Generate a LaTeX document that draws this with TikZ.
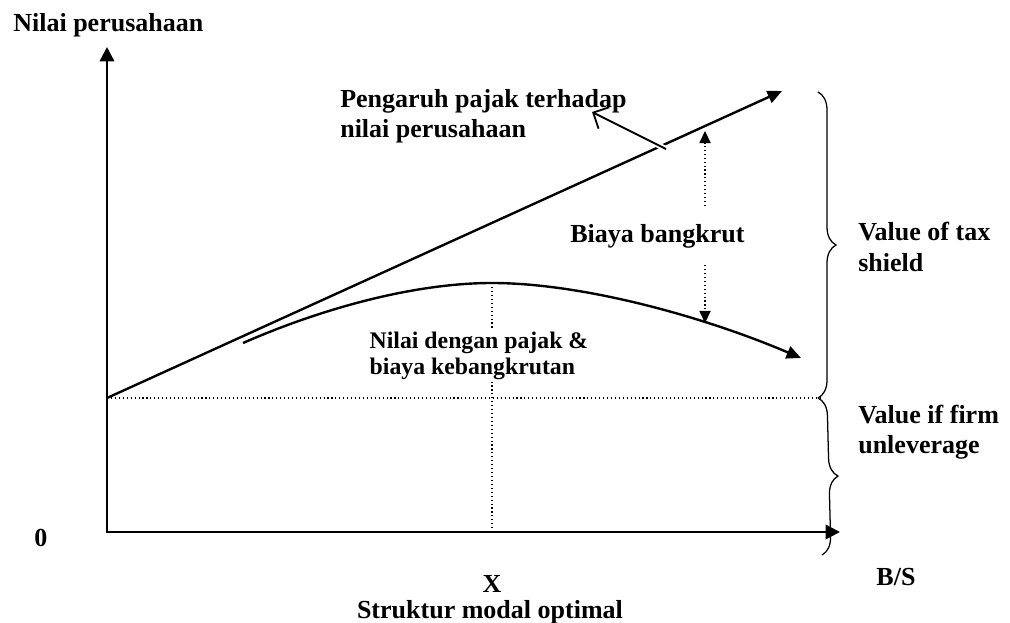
\documentclass[tikz,border=0pt]{standalone}
\usepackage{fontspec}
\setmainfont{Liberation Serif}
\usetikzlibrary{arrows.meta, decorations.pathreplacing, calc}

\begin{document}
\begin{tikzpicture}[
    x=0.025cm, y=-0.025cm,
    lbl/.style={font=\fontsize{18.5}{21.5}\selectfont\bfseries, inner sep=0pt, align=left},
    smalllbl/.style={font=\fontsize{16.9}{19}\selectfont\bfseries, inner sep=1pt, align=left, fill=white},
    axis/.style={line width=1.7pt, {Triangle[length=3.6mm, width=3.6mm]}-{Triangle[length=3.6mm, width=3.6mm]}},
    curve/.style={line width=1.7pt, -{Triangle[length=3.6mm, width=3.2mm]}},
    dotarr/.style={dotted, line width=0.8pt, -{Triangle[length=3mm, width=2.8mm]}},
    guide/.style={dotted, line width=0.8pt},
    pointer/.style={line width=1.3pt, -{Straight Barb[length=3mm, width=6mm]}},
    brc/.style={decorate, decoration={brace, amplitude=0.45cm}, line width=0.9pt},
]
\useasboundingbox (0,0) rectangle (1010,623);

% Axes
\coordinate (O)    at (107,532);
\coordinate (ytop) at (107,47);
\coordinate (xend) at (840,532);
\draw[axis] (ytop) -- (O) -- (xend);

% Reference points
\coordinate (base)   at (107,398);
\coordinate (baseR)  at (822,398);
\coordinate (taxtip) at (782,91);
\coordinate (cstart) at (243,343);
\coordinate (cpeak)  at (492,283);
\coordinate (cend)   at (801,358);
\coordinate (optA)   at (492,287);
\coordinate (optB)   at (492,532);
\coordinate (upA) at (705,206);
\coordinate (upB) at (705,131);
\coordinate (dnA) at (705,265);
\coordinate (dnB) at (705,323);
\coordinate (ptrA) at (666,149);
\coordinate (ptrB) at (592,112);

% Dotted guides
\draw[guide] (base) -- (baseR);
\draw[guide] (optA) -- (optB);

% Value with tax shield only
\draw[curve] (base) -- (taxtip);
\draw[pointer, preaction={draw, white, line width=4pt, -, shorten >=40}] (ptrA) -- (ptrB);

% Value with tax and bankruptcy cost
\draw[curve] (cstart) .. controls (330,305) and (420,283) .. (cpeak)
    .. controls (580,283) and (700,315) .. (cend);

% Bankruptcy cost arrows
\draw[dotarr] (upA) -- (upB);
\draw[dotarr] (dnA) -- (dnB);

% Braces
\coordinate (b1t) at (818,92);
\coordinate (b1b) at (818,398);
\coordinate (b2t) at (818,398);
\coordinate (b2b) at (822,555);
\draw[brc] (b1t) -- (b1b);
\draw[brc] (b2t) -- (b2b);

% Labels
\node[lbl, anchor=base west] (ylab) at (13,32) {Nilai perusahaan};
\node[lbl, anchor=west] (effect) at (340,116) {Pengaruh pajak terhadap\\nilai perusahaan};
\node[lbl, anchor=west] (bankrupt) at (570,236) {Biaya bangkrut};
\node[smalllbl, anchor=west] (withtax) at (368,356) {Nilai dengan pajak \&\\biaya kebangkrutan};
\node[lbl, anchor=west] (shield) at (858,247) {Value of tax\\shield};
\node[lbl, anchor=west] (unlev) at (858,432) {Value if firm\\unleverage};
\node[lbl] (zero) at (41,538) {0};
\node[lbl] (bs) at (896,577) {B/S};
\node[lbl] (xopt) at (492,584) {X};
\node[lbl] (optimal) at (490,612) {Struktur modal optimal};

\end{tikzpicture}
\end{document}
